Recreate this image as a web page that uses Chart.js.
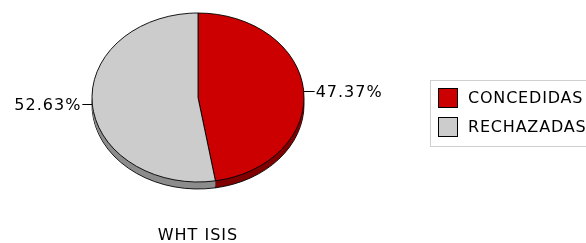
<!DOCTYPE html>
<html lang="es">
<head>
    <meta charset="UTF-8">
    <title>WHT ISIS</title>
    <script src="https://cdn.jsdelivr.net/npm/chart.js"></script>
    <style>
        html, body { margin: 0; padding: 0; background: #fff; }
        #wrap { width: 586px; height: 243px; }
    </style>
</head>
<body>
<div id="wrap"><canvas id="pieChart" width="586" height="243"></canvas></div>
<script>
    // Data
    var categories = ['CONCEDIDAS', 'RECHAZADAS'];
    var values = [47.37, 52.63];
    var sliceColors = ['#cc0000', '#cccccc'];
    var sideColors = ['#800000', '#8c8c8c'];
    var chartTitle = 'WHT ISIS';

    var FONT = '16px "DejaVu Sans"';
    var squash = 84.5 / 106;   // ellipse: vertical / horizontal radius
    var depth = 7;             // 3D rim height in px

    function squashCtx(chart, ctx) {
        var arc = chart.getDatasetMeta(0).data[0];
        ctx.translate(arc.x, arc.y);
        ctx.scale(1, squash);
        ctx.translate(-arc.x, -arc.y);
    }

    function slicePath(ctx, a) {
        ctx.beginPath();
        ctx.moveTo(a.x, a.y);
        ctx.arc(a.x, a.y, a.outerRadius, a.startAngle, a.endAngle);
        ctx.closePath();
    }

    var pie3d = {
        id: 'pie3d',
        beforeDatasetsDraw: function(chart) {
            var ctx = chart.ctx;
            var arcs = chart.getDatasetMeta(0).data;
            // rim: bottom outline first, then fill the band up to the top face
            ctx.save();
            ctx.translate(0, depth);
            squashCtx(chart, ctx);
            arcs.forEach(function(a, i) {
                slicePath(ctx, a);
                ctx.fillStyle = sideColors[i];
                ctx.fill();
                ctx.lineWidth = 1;
                ctx.strokeStyle = '#000';
                ctx.stroke();
            });
            ctx.restore();
            arcs.forEach(function(a, i) {
                for (var d = 1; d < depth; d++) {
                    ctx.save();
                    ctx.translate(0, d);
                    squashCtx(chart, ctx);
                    slicePath(ctx, a);
                    ctx.fillStyle = sideColors[i];
                    ctx.fill();
                    ctx.restore();
                }
            });
            // top face is drawn by Chart.js inside this squashed context
            ctx.save();
            squashCtx(chart, ctx);
        },
        afterDatasetsDraw: function(chart) {
            chart.ctx.restore();
        },
        afterDraw: function(chart) {
            var ctx = chart.ctx;
            var arcs = chart.getDatasetMeta(0).data;
            var total = values.reduce(function(s, v) { return s + v; }, 0);

            ctx.save();
            ctx.font = FONT;
            ctx.letterSpacing = '1px';
            ctx.fillStyle = '#000';
            ctx.strokeStyle = '#000';
            ctx.lineWidth = 1;
            ctx.textBaseline = 'middle';

            // percentage labels with short link lines
            arcs.forEach(function(a, i) {
                var mid = (a.startAngle + a.endAngle) / 2;
                var px = a.x + a.outerRadius * Math.cos(mid);
                var py = a.y + a.outerRadius * squash * Math.sin(mid);
                var right = Math.cos(mid) >= 0;
                var ex = px + (right ? 11 : -10);
                py = Math.round(py) + 0.5;
                ctx.beginPath();
                ctx.moveTo(px, py);
                ctx.lineTo(ex, py);
                ctx.stroke();
                var txt = (values[i] / total * 100).toFixed(2) + '%';
                ctx.textAlign = right ? 'left' : 'right';
                ctx.fillText(txt, ex + (right ? 1 : -1), py + 1);
            });

            // title under the pie
            ctx.textAlign = 'center';
            ctx.fillText(chartTitle, arcs[0].x, 236);

            // legend
            ctx.letterSpacing = '0.8px';
            ctx.strokeStyle = '#cfcfcf';
            ctx.strokeRect(430.5, 80.5, 170, 66);
            categories.forEach(function(c, i) {
                var y = 88 + i * 29;
                ctx.fillStyle = sliceColors[i];
                ctx.fillRect(438, y, 20, 20);
                ctx.strokeStyle = '#000';
                ctx.strokeRect(438.5, y + 0.5, 19, 19);
                ctx.fillStyle = '#000';
                ctx.textAlign = 'left';
                ctx.fillText(c, 468, y + 11);
            });
            ctx.restore();
        }
    };

    var ctx = document.getElementById('pieChart').getContext('2d');
    var chart = new Chart(ctx, {
        type: 'pie',
        data: {
            labels: categories,
            datasets: [{
                data: values,
                backgroundColor: sliceColors,
                borderColor: '#000',
                borderWidth: 1
            }]
        },
        options: {
            responsive: false,
            animation: false,
            radius: 106,
            layout: { padding: { left: 0, right: 190, top: 0, bottom: 48 } },
            plugins: {
                legend: { display: false },
                tooltip: { enabled: false }
            }
        },
        plugins: [pie3d]
    });
</script>
</body>
</html>
